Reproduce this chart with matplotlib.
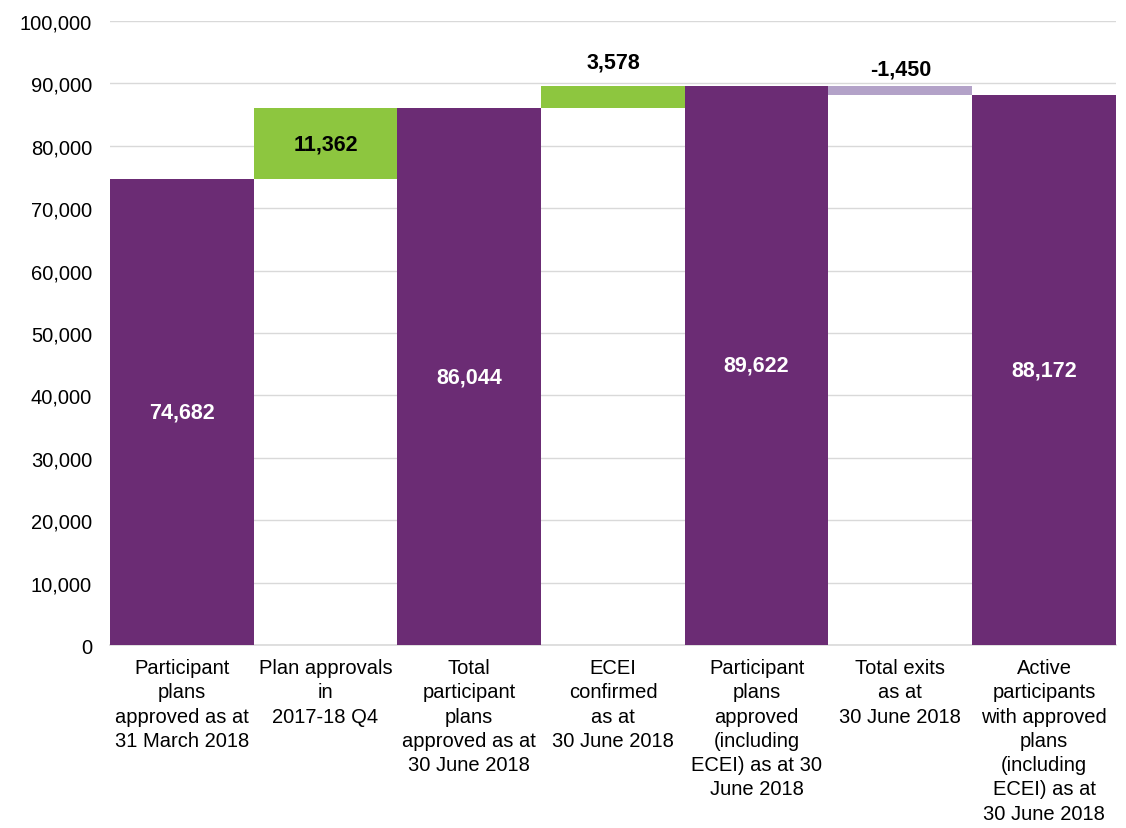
import numpy as np
import matplotlib.pyplot as plt
from matplotlib.ticker import FuncFormatter

plt.rcParams['font.family'] = ['Liberation Sans', 'DejaVu Sans']

# Waterfall data
categories = [
    "Participant\nplans\napproved as at\n31 March 2018",
    "Plan approvals\nin\n2017-18 Q4",
    "Total\nparticipant\nplans\napproved as at\n30 June 2018",
    "ECEI\nconfirmed\nas at\n30 June 2018",
    "Participant\nplans\napproved\n(including\nECEI) as at 30\nJune 2018",
    "Total exits\nas at\n30 June 2018",
    "Active\nparticipants\nwith approved\nplans\n(including\nECEI) as at\n30 June 2018",
]
values = [74682, 11362, 86044, 3578, 89622, -1450, 88172]
is_total = [True, False, True, False, True, False, True]

purple = "#6B2C74"
green = "#8DC63F"
light_purple = "#B3A2C8"

fig = plt.figure(figsize=(11.26, 8.29), dpi=100)
ax = fig.add_axes([0.0977, 0.2207, 0.8933, 0.7528])

x = np.arange(len(values))
running = 0
for i, (v, tot) in enumerate(zip(values, is_total)):
    if tot:
        bottom, height, color = 0, v, purple
        running = v
    else:
        if v >= 0:
            bottom, height, color = running, v, green
        else:
            bottom, height, color = running + v, -v, light_purple
        running += v
    ax.bar(x[i], height, bottom=bottom, width=1.0, color=color, zorder=3)

    label = f"{v:,}"
    if tot:
        ax.text(x[i], bottom + height / 2, label, ha='center', va='center',
                color='white', fontsize=15.5, fontweight='bold', zorder=4)
    elif height > 5000:
        ax.text(x[i], bottom + height / 2, label, ha='center', va='center',
                color='black', fontsize=15.5, fontweight='bold', zorder=4)
    else:
        # small steps: label sits above the bar
        off = 3800 if v > 0 else 2700
        ax.text(x[i], max(running, running - v) + off, label, ha='center', va='center',
                color='black', fontsize=15.5, fontweight='bold', zorder=4)

ax.set_xlim(-0.5, len(values) - 0.5)
ax.set_ylim(0, 100000)
ax.set_yticks(np.arange(0, 100001, 10000))
ax.yaxis.set_major_formatter(FuncFormatter(lambda v, p: f"{int(v):,}"))
ax.set_xticks(x)
ax.set_xticklabels(categories, fontsize=14.5, linespacing=1.35)
ax.tick_params(axis='y', labelsize=14.5, length=0, pad=13)
ax.tick_params(axis='x', length=0, pad=9.5)
ax.grid(axis='y', color='#D9D9D9', linewidth=1, zorder=0)
for s in ['top', 'right', 'left']:
    ax.spines[s].set_visible(False)
ax.spines['bottom'].set_color('#D9D9D9')
ax.spines['bottom'].set_linewidth(1.2)

plt.savefig("out.png", dpi=100)
